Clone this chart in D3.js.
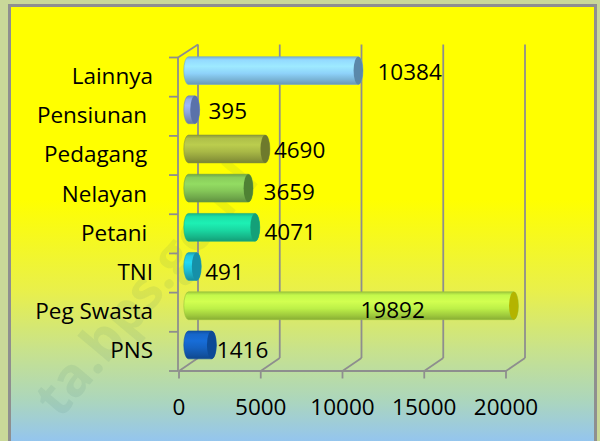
<!DOCTYPE html>
<html><head><meta charset="utf-8">
<script src="https://cdn.jsdelivr.net/npm/d3@7/dist/d3.min.js"></script>
<style>
html,body{margin:0;padding:0;background:#c9d899;}
svg{display:block;}
text{font-family:"Open Sans",sans-serif;}
</style>
</head><body>
<svg id="chart" width="600" height="441"></svg>
<script>
// ---- data ----
const categories = ["PNS", "Peg Swasta", "TNI", "Petani ", "Nelayan ", "Pedagang ", "Pensiunan ", "Lainnya"];
const values = [1416, 19892, 491, 4071, 3659, 4690, 395, 10384];
const tickValues = [0, 5000, 10000, 15000, 20000];

// ---- styles / layout ----
const bodyColors = ["#1562c2", "#bdf048", "#1fc2da", "#1ad8a2", "#84c658", "#a8b846", "#8ea6de", "#8ed2fa"];
const capColors  = ["#0d4a96", "#b4b400", "#1690a8", "#14a078", "#4f8234", "#6e7a2c", "#5a72aa", "#5a88aa"];
const labelNudge = [[0.5, 5], [-158, 4.2], [4, 5.9], [4.7, 4.6], [10.5, 3.8], [4, 1], [8.8, 1.2], [14.5, 1.9]];
const fs = 22.5;

const W = 600, H = 441;
const svg = d3.select("#chart");
const defs = svg.append("defs");

// background
const bg = defs.append("linearGradient").attr("id", "bg")
  .attr("gradientUnits", "userSpaceOnUse").attr("x1", 0).attr("y1", 7).attr("x2", 0).attr("y2", 441);
[[0, "#ffff00"], [193/434, "#ffff00"], [283/434, "#e9f04a"], [343/434, "#c8e28c"], [393/434, "#acd6bc"], [1, "#94c5ee"]]
  .forEach(([o, c]) => bg.append("stop").attr("offset", o).attr("stop-color", c));

svg.append("rect").attr("width", W).attr("height", H).attr("fill", "#c9d899");
svg.append("rect").attr("x", 9.5).attr("y", 5.5).attr("width", 586).attr("height", 460)
  .attr("fill", "url(#bg)").attr("stroke", "#8f8f8f").attr("stroke-width", 3);

// watermark
svg.append("text")
  .attr("transform", "translate(60,420) rotate(-50)")
  .attr("font-size", 54).attr("font-weight", "bold")
  .attr("fill", "#3a6a6a").attr("fill-opacity", 0.09)
  .text("ta.bps.go.id");

// scales
const x = d3.scaleLinear().domain([0, 20000]).range([179, 506]);
const y = d3.scaleBand().domain(categories.slice().reverse()).range([57.5, 371]);
const dx = 19, dy = -13;
const yBottom = 371, yTop = 57.5;
const gridColor = "#8e8e8e";

const grid = svg.append("g").attr("stroke", gridColor).attr("stroke-width", 1.8).attr("fill", "none");
grid.selectAll(".bg").data(tickValues).join("line")
  .attr("x1", d => x(d) + dx).attr("x2", d => x(d) + dx)
  .attr("y1", yBottom + dy).attr("y2", yTop + dy);
grid.selectAll(".fd").data(tickValues).join("line")
  .attr("x1", d => x(d)).attr("x2", d => x(d) + dx)
  .attr("y1", yBottom).attr("y2", yBottom + dy);
grid.append("line").attr("x1", x(0)).attr("x2", x(20000)).attr("y1", yBottom).attr("y2", yBottom);
grid.selectAll(".bt").data(tickValues).join("line")
  .attr("x1", d => x(d)).attr("x2", d => x(d)).attr("y1", yBottom).attr("y2", yBottom + 7.5);
grid.append("line").attr("x1", x(0) - 1).attr("x2", x(0) - 1).attr("y1", yTop).attr("y2", yBottom);
grid.append("line").attr("x1", x(0) - 1).attr("x2", x(0) + dx).attr("y1", yTop).attr("y2", yTop + dy);
const bounds = y.domain().map(c => y(c)).concat([yBottom]);
grid.selectAll(".lt").data(bounds).join("line")
  .attr("x1", x(0) - 10).attr("x2", x(0) - 1).attr("y1", d => d).attr("y2", d => d);

// bar gradients
categories.forEach((c, i) => {
  const base = d3.color(bodyColors[i]);
  const g = defs.append("linearGradient").attr("id", "bar" + i)
    .attr("x1", 0).attr("y1", 0).attr("x2", 0).attr("y2", 1);
  [[0, base.darker(0.5)], [0.12, base.brighter(0.1)], [0.35, base.brighter(0.3)], [0.6, base], [0.85, base.darker(0.5)], [1, base.darker(0.9)]]
    .forEach(([o, col]) => g.append("stop").attr("offset", o).attr("stop-color", col.formatHex()));
});

const ry = y.bandwidth() * 0.355, rx = 4.7;
const bars = svg.append("g");
categories.forEach((c, i) => {
  const cy = y(c) + y.bandwidth() / 2 + dy / 2;
  const x0 = x(0) + dx / 2, x1 = x(values[i]) + dx / 2;
  const p = `M${x0},${cy - ry} L${x1},${cy - ry} A${rx},${ry} 0 0 1 ${x1},${cy + ry} L${x0},${cy + ry} A${rx},${ry} 0 0 1 ${x0},${cy - ry} Z`;
  bars.append("path").attr("d", p).attr("fill", `url(#bar${i})`)
    .attr("stroke", d3.color(bodyColors[i]).darker(0.6).formatHex()).attr("stroke-width", 0.6);
  bars.append("ellipse").attr("cx", x1).attr("cy", cy).attr("rx", rx).attr("ry", ry)
    .attr("fill", capColors[i]);
});

// category labels
svg.append("g").selectAll("text").data(categories).join("text")
  .attr("x", 153).attr("y", d => y(d) + y.bandwidth() / 2 - 1 + 8)
  .attr("text-anchor", "end").attr("font-size", fs).attr("fill", "#000")
  .attr("xml:space", "preserve").style("white-space", "pre")
  .text(d => d);

// value labels
svg.append("g").selectAll("text").data(categories).join("text")
  .attr("x", (d, i) => x(values[i]) + dx / 2 + rx + labelNudge[i][0])
  .attr("y", (d, i) => y(d) + y.bandwidth() / 2 + dy / 2 + labelNudge[i][1] + 8)
  .attr("font-size", fs).attr("fill", "#000")
  .text((d, i) => values[i]);

// tick labels
svg.append("g").selectAll("text").data(tickValues).join("text")
  .attr("x", d => x(d)).attr("y", 414.5)
  .attr("text-anchor", "middle").attr("font-size", fs).attr("fill", "#000")
  .text(d => d);
</script>
</body></html>
